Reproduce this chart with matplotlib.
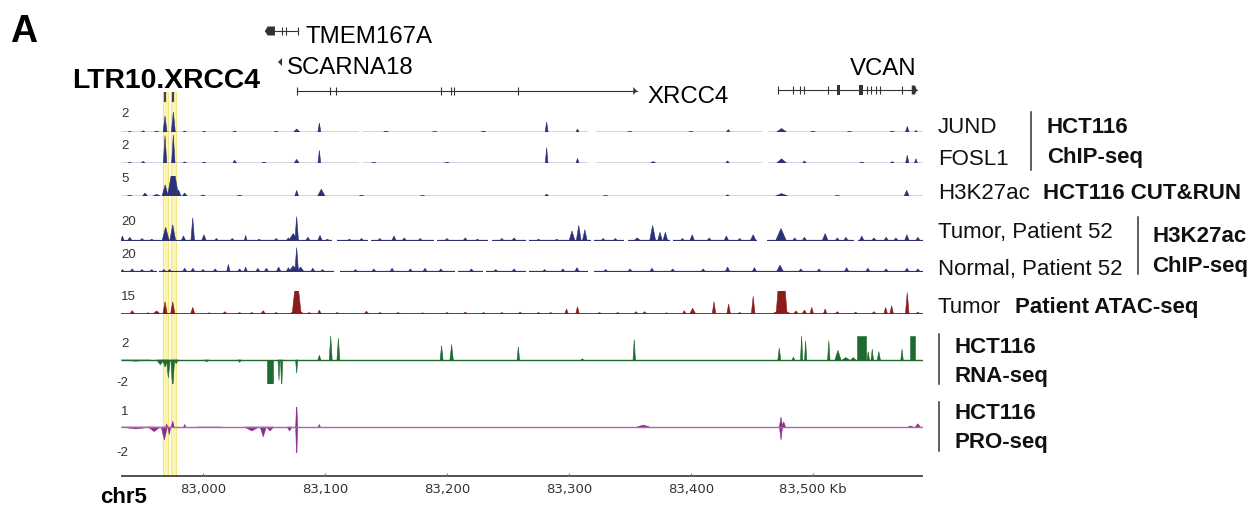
import matplotlib
matplotlib.use('Agg')
import matplotlib.pyplot as plt

plt.rcParams['font.family'] = ['Liberation Sans', 'DejaVu Sans']

W, H = 1254, 506
LEFT, RIGHT = 121, 923          # px span of the tracks
X0, X1 = 82932.8, 83590.2       # kb span of the tracks

# ---------------- data (kb, track units) ----------------
highlights = [(82967.2, 82971.3), (82973.8, 82977.9)]
ltr_marks = [82968.9, 82975.4]

ticks_kb = [83000, 83100, 83200, 83300, 83400, 83500]
tick_labels = ['83,000', '83,100', '83,200', '83,300', '83,400', '83,500 Kb']

# gene models
tmem_span = (83050.8, 83077.9)
tmem_block = (83050.8, 83059.0)
tmem_exons = [83064.8, 83068.0, 83077.9]
scarna_span = (83061.5, 83064.8)
xrcc4_span = (83077.0, 83355.7)
xrcc4_exons = [83077.0, 83104.1, 83109.4, 83195.5, 83203.3, 83206.0, 83258.2]
vcan_span = (83471.3, 83585.2)
vcan_exons = [83471.3, 83483.6, 83489.3, 83492.6, 83512.3, 83544.3, 83547.5,
              83551.6, 83554.9, 83572.95]
vcan_blocks = [(83519.7, 83522.1), (83537.7, 83541.0)]
vcan_end = (83581.0, 83585.2)

# peaks: (centre kb, height, half width kb)
jund_peaks = [(82940, 0.06, 1.5), (82951, 0.12, 1.5), (82962, 0.08, 2), (82968.9, 1.6, 1.6),
              (82975.7, 2.0, 1.6), (82985, 0.1, 1.5), (83001, 0.07, 1.5), (83026, 0.1, 1.5),
              (83060, 0.06, 2), (83076.8, 0.3, 2.5), (83095.4, 0.9, 1.2), (83150, 0.05, 2),
              (83190, 0.06, 2), (83230, 0.05, 2), (83281.7, 1.0, 1.2), (83307, 0.3, 1.2),
              (83350, 0.06, 2), (83400, 0.06, 2), (83430.6, 0.25, 1.5), (83474.3, 0.35, 4),
              (83500, 0.07, 2), (83530, 0.06, 2), (83565, 0.08, 2), (83577.3, 0.55, 1.5),
              (83584.4, 0.15, 1.2)]
jund_gaps = [(83127, 83130), (83315.6, 83321.3), (83458, 83463)]

fosl1_peaks = [(82940, 0.05, 1.5), (82951, 0.12, 1.5), (82968.9, 1.95, 1.4), (82975.7, 2.0, 1.4),
               (82985, 0.08, 1.5), (83001, 0.06, 1.5), (83026, 0.2, 1.5), (83050, 0.05, 2),
               (83076.8, 0.26, 2), (83095.4, 0.9, 1.1), (83140, 0.05, 2), (83200, 0.05, 2),
               (83281.7, 1.1, 1.1), (83307, 0.33, 1.2), (83369, 0.1, 2), (83430, 0.15, 1.5),
               (83474.3, 0.3, 4), (83493, 0.15, 1.5), (83540, 0.06, 2), (83565, 0.1, 1.5),
               (83577.3, 0.55, 1.3), (83584.4, 0.3, 1.2)]
fosl1_gaps = [(83127, 83130), (83315.6, 83321.3), (83458, 83463)]

cutrun_peaks = [(82940, 0.2, 2), (82952.5, 0.75, 2), (82962, 0.4, 3), (82969, 2.8, 2.5),
                (82975.5, 8.0, 4.5), (82980, 1.5, 2), (82985, 0.75, 2), (83000, 0.25, 2),
                (83030, 0.2, 2), (83076.8, 1.4, 1.5), (83097, 1.7, 3), (83130, 0.2, 2),
                (83180, 0.15, 2), (83281.7, 0.5, 1.5), (83330, 0.15, 2), (83430, 0.3, 1.5),
                (83474.3, 0.6, 5), (83520, 0.15, 2), (83576.8, 1.4, 2)]

tumor_peaks = [(82934, 4, 1.5), (82940, 3, 2), (82950, 2, 2), (82958, 1.5, 2),
               (82969.4, 11, 3), (82975.2, 13, 2.5), (82984, 4, 2), (82991.6, 18.5, 1.5),
               (83000.8, 5, 2), (83011, 2, 2), (83024, 2, 2), (83035, 4.5, 1.2), (83046, 1.5, 2),
               (83060, 2, 2), (83070, 2.5, 2), (83076.8, 19.5, 1.5), (83074, 6, 4), (83086, 3, 2),
               (83095.9, 4.5, 2), (83102, 1.5, 2), (83120, 1.5, 2), (83130, 2, 2), (83145, 2, 2),
               (83156.6, 4, 2), (83165, 2.5, 2), (83178, 2, 2), (83200, 2, 2), (83215, 2.5, 2),
               (83225, 1.5, 2), (83245, 2, 2), (83255, 2.5, 2), (83275, 1.5, 2), (83290, 1.5, 2),
               (83302.5, 8, 2.5), (83308, 12.5, 2), (83313, 9, 2), (83328, 2, 2), (83338, 2, 2),
               (83356, 2.5, 3), (83368.6, 12.5, 2.5), (83374.6, 7, 2), (83379, 7, 2),
               (83393, 2, 2), (83401, 5, 2), (83415, 2.5, 2), (83429, 4, 2), (83440, 2, 2),
               (83451, 5, 2.5), (83473.8, 10, 4.5), (83485, 2.5, 2), (83493, 3, 2),
               (83510, 6, 2.5), (83520, 2.5, 2), (83527, 3, 2), (83540, 4, 2), (83550, 2.5, 2),
               (83560, 3, 2), (83568, 2.5, 2), (83577, 5, 2), (83586, 3, 2)]
tumor_gaps = [(83106, 83110), (83135, 83138), (83189, 83192), (83234, 83237), (83265, 83267),
              (83318, 83320.5), (83345, 83348), (83383, 83385), (83454, 83462), (83534, 83537)]

normal_peaks = [(82934, 2, 1.5), (82942, 2.5, 2), (82950, 2, 2), (82958, 2, 2), (82968, 2, 2),
                (82972.7, 2, 2), (82985, 3, 2), (82991.7, 3, 2), (83000, 2, 2), (83010, 2.5, 2),
                (83020.8, 6, 1.5), (83030, 2.5, 2), (83035, 4, 1.5), (83045, 3, 2), (83052, 3, 2),
                (83062, 4, 2), (83070, 3.5, 2), (83076.8, 19.5, 1.5), (83074, 5, 4), (83080, 4, 3),
                (83090, 3, 2), (83098, 2, 2), (83125, 2, 2), (83140, 2.5, 2), (83155, 3, 2),
                (83170, 2.5, 2), (83182, 3, 2), (83195, 2.5, 2), (83220, 2.5, 2), (83240, 2, 2),
                (83255, 2.5, 2), (83280, 2, 2), (83295, 2.5, 2), (83306.6, 3.5, 2), (83330, 2, 2),
                (83350, 2.5, 2), (83368, 3, 2), (83385, 2.5, 2), (83410, 2.5, 2), (83430, 4, 2),
                (83452, 3.5, 2), (83473, 5.5, 3), (83490, 2.5, 2), (83505, 2.5, 2),
                (83527.6, 3.5, 2), (83545, 3, 2), (83560, 2.5, 2), (83577, 3, 2), (83586, 2.5, 2)]
normal_gaps = [(82962, 82964), (83107, 83112), (83206.6, 83209), (83229.5, 83232),
               (83265, 83267), (83315.6, 83320.5)]

atac_peaks = [(82942, 2.2, 2), (82955, 0.8, 2), (82962, 2, 3), (82968.9, 8, 1.8),
              (82975.2, 8, 1.8), (82991.6, 4.3, 1.8), (83005, 0.8, 2), (83018, 1.5, 2),
              (83030, 1, 2), (83040, 1, 2), (83049.4, 2.2, 2), (83060, 1, 2), (83077, 3, 6),
              (83076.8, 27, 3.7), (83087, 1, 2), (83095.4, 2.6, 1.5), (83110, 1, 2),
              (83134, 1.8, 2), (83145, 1, 2), (83160, 1, 2), (83180, 0.8, 2), (83200, 1, 2),
              (83215, 1.2, 2), (83230, 1, 2), (83245, 1, 2), (83260, 1.2, 2), (83275, 1, 2),
              (83285, 1, 2), (83298, 3.3, 1.5), (83307, 4.8, 1.5), (83325, 1, 2), (83340, 1, 2),
              (83355, 1.5, 2), (83362, 1.5, 2), (83380, 0.8, 2), (83394.5, 2.2, 1.5),
              (83401.4, 3.7, 2.5), (83418.9, 8, 1.5), (83430.9, 6.5, 1.5), (83440, 1, 2),
              (83451, 11.5, 1.5), (83474.3, 3, 8), (83474.3, 45, 4.5), (83486, 2, 2),
              (83493, 2.5, 2), (83499, 4.3, 1.5), (83510, 3.3, 1.5), (83520, 1.5, 2),
              (83535, 1.2, 2), (83550, 1.5, 2), (83559.6, 4.3, 1.5), (83564.5, 5.4, 1.5),
              (83577.3, 14, 1.5), (83586, 1.2, 2)]

rna_peaks = [(82945, -0.1, 12), (82965, -0.4, 3), (82968.9, -0.6, 2), (82971.6, -1.5, 1.5),
             (82975.2, -2.5, 1.5), (82978, -0.3, 2), (83003, -0.15, 2), (83030, -0.2, 1.5),
             (83062.3, -1.7, 0.8), (83064.5, -2.5, 0.9), (83076.8, -1.1, 0.9),
             (83095.4, 0.4, 1.2), (83104.7, 2.0, 1.2), (83111, 1.8, 1.2), (83195.6, 1.2, 1.2),
             (83203.8, 1.3, 1.4), (83258.5, 1.1, 1), (83311, 0.1, 1), (83353.5, 1.7, 1),
             (83472.4, 1.0, 1.2), (83484, 0.25, 1), (83490.7, 2.0, 0.9), (83494, 1.6, 0.9),
             (83513, 1.6, 1), (83520.5, 0.8, 2.5), (83527, 0.2, 3), (83533, 0.2, 2),
             (83545.3, 0.7, 1), (83548.6, 0.9, 1), (83554, 0.7, 1.3), (83573, 0.9, 1)]
rna_blocks = [(83052.2, 83057.6, -2.0), (83536.5, 83543.4, 2.0), (83579.5, 83583.5, 2.0)]

pro_peaks = [(82945, -0.15, 12), (82960, -0.35, 5), (82968.3, -1.0, 2.5), (82970.2, 0.25, 0.8),
             (82972.4, -0.6, 1.2), (82975.2, 0.45, 1.2), (82985, 0.2, 0.8), (83005, -0.05, 10),
             (83040, -0.3, 6), (83049.4, -0.75, 2.5), (83055, -0.3, 3), (83071, -0.3, 2),
             (83076.8, 2.0, 0.8), (83076.8, -2.5, 0.8), (83095.4, 0.2, 0.8), (83361, 0.15, 5),
             (83473.8, 0.77, 1.3), (83473.8, -1.0, 1.2), (83476, 0.4, 1.5), (83580, 0.08, 2),
             (83586, 0.25, 2)]

NAVY = '#2d3178'
RED = '#8b1c1c'
GREEN = '#1f6a2e'
PURPLE = '#8a2c8c'
GREY = '#333333'

fig = plt.figure(figsize=(W / 100, H / 100), dpi=100)

# full-figure axes in pixel coordinates (y from top)
axf = fig.add_axes([0, 0, 1, 1])
axf.set_xlim(0, W)
axf.set_ylim(H, 0)
axf.axis('off')

# genomic axes: x in kb, y in pixels
ax0 = fig.add_axes([LEFT / W, 0, (RIGHT - LEFT) / W, 1])
ax0.set_xlim(X0, X1)
ax0.set_ylim(H, 0)
ax0.axis('off')
ax0.patch.set_visible(False)

for a, b in highlights:
    ax0.fill([a, a, b, b], [93, 477, 477, 93], facecolor='#fbf5b4', edgecolor='#f2e67c', lw=0.8, zorder=0)
ax0.vlines(ltr_marks, 93, 103, color='#444444', lw=1.6)

# genes
ax0.plot(tmem_span, [32, 32], color=GREY, lw=0.8)
ax0.fill([tmem_block[0], tmem_block[0] + 2.2, tmem_block[1], tmem_block[1], tmem_block[0] + 2.2],
         [32, 27.5, 27.5, 36.5, 36.5], color=GREY, lw=0)
ax0.vlines(tmem_exons, 28, 36, color=GREY, lw=0.8)
ax0.fill([scarna_span[0], scarna_span[1], scarna_span[1]], [63, 59, 67], color=GREY, lw=0)

ax0.plot(xrcc4_span, [92, 92], color=GREY, lw=0.8)
ax0.vlines(xrcc4_exons, 88, 96, color=GREY, lw=0.8)
e = xrcc4_span[1]
ax0.fill([e - 3.0, e, e - 3.0], [88, 92, 96], color=GREY, lw=0)

ax0.plot(vcan_span, [91, 91], color=GREY, lw=0.8)
ax0.vlines(vcan_exons, 87, 95, color=GREY, lw=0.8)
for a, b in vcan_blocks:
    ax0.fill([a, a, b, b], [86, 96, 96, 86], color=GREY, lw=0)
a, b = vcan_end
ax0.fill([a, b - 1.6, b, b - 1.6, a], [86.5, 86.5, 91, 95.5, 95.5], color=GREY, lw=0)

# genomic axis
ax0.plot([X0, X1], [477, 477], color='#444444', lw=1.3)
ax0.vlines(ticks_kb, 474, 477, color='#777777', lw=0.8)
for t, lab in zip(ticks_kb, tick_labels):
    ax0.text(t, 493, lab, ha='center', va='baseline', fontsize=9.5,
             family='DejaVu Sans', color='#333333')


def track(top, bottom, ylim, color, peaks, blocks=(), gaps=(), base_lw=1.2, base_color=None):
    ax = fig.add_axes([LEFT / W, 1 - bottom / H, (RIGHT - LEFT) / W, (bottom - top) / H])
    ax.set_xlim(X0, X1)
    ax.set_ylim(*ylim)
    ax.axis('off')
    ax.patch.set_visible(False)
    edges = [X0] + [g for gap in gaps for g in gap] + [X1]
    for a, b in zip(edges[::2], edges[1::2]):
        ax.plot([a, b], [0, 0], color=base_color or color, lw=base_lw, solid_capstyle='butt')
    for c, h, w in peaks:
        ax.fill([c - w, c, c + w], [0, h, 0], color=color, lw=0.4)
    for a, b, h in blocks:
        ax.fill([a, a, b, b], [0, h, h, 0], color=color, lw=0.4)
    return ax


track(113, 133, (0, 2), NAVY, jund_peaks, gaps=jund_gaps, base_lw=1.0)
track(136, 164, (0, 2), NAVY, fosl1_peaks, gaps=fosl1_gaps, base_lw=1.0)
track(177, 197, (0, 5), NAVY, cutrun_peaks, base_lw=1.0)
track(217, 242, (0, 20), NAVY, tumor_peaks, gaps=tumor_gaps, base_lw=1.6)
track(248, 273, (0, 20), NAVY, normal_peaks, gaps=normal_gaps, base_lw=1.6)
track(292, 315, (0, 15), RED, atac_peaks, base_lw=1.3)
track(336, 385, (-2, 2.08), GREEN, rna_peaks, blocks=rna_blocks, base_lw=1.0)
track(408, 454, (-2, 1.54), PURPLE, pro_peaks, base_lw=1.0, base_color='#a767a8')

# data range labels
range_labels = [('2', 121, 117), ('2', 121, 149), ('5', 121, 182), ('20', 121, 225),
                ('20', 121, 258), ('15', 121, 300), ('2', 121, 347), ('-2', 116, 386),
                ('1', 121, 415), ('-2', 116, 456)]
for s, x, y in range_labels:
    axf.text(x, y, s, fontsize=9.5, color='#333333', ha='left', va='baseline')

# headings
axf.text(10, 42, 'A', fontsize=27, fontweight='bold', va='baseline')
axf.text(72, 88, 'LTR10.XRCC4', fontsize=20.4, fontweight='bold', va='baseline')
axf.text(305, 43, 'TMEM167A', fontsize=17.3, va='baseline')
axf.text(287, 74, 'SCARNA18', fontsize=17.3, va='baseline')
axf.text(647, 103, 'XRCC4', fontsize=17.3, va='baseline')
axf.text(917, 75, 'VCAN', fontsize=17.3, va='baseline', ha='right')
axf.text(100, 503, 'chr5', fontsize=16, fontweight='bold', va='baseline')

# right-hand labels
plain = [('JUND', 938, 133), ('FOSL1', 938, 165), ('H3K27ac', 938, 199),
         ('Tumor, Patient 52', 938, 238), ('Normal, Patient 52', 938, 275), ('Tumor', 938, 313)]
bold = [('HCT116', 1047, 133), ('ChIP-seq', 1047, 163), ('HCT116 CUT&RUN', 1043, 199),
        ('H3K27ac', 1152, 242), ('ChIP-seq', 1152, 272), ('Patient ATAC-seq', 1015, 313),
        ('HCT116', 955, 353), ('RNA-seq', 955, 382), ('HCT116', 955, 419), ('PRO-seq', 955, 448)]
for s, x, y in plain:
    axf.text(x, y, s, fontsize=16, va='baseline', color='#111111')
for s, x, y in bold:
    axf.text(x, y, s, fontsize=16, fontweight='bold', va='baseline', color='#111111')
for x, y0, y1 in [(1031, 113, 171), (1138, 218, 275), (939, 335, 385), (939, 403, 452)]:
    axf.plot([x, x], [y0, y1], color='#333333', lw=1.1)

fig.savefig('out.png', dpi=100)
